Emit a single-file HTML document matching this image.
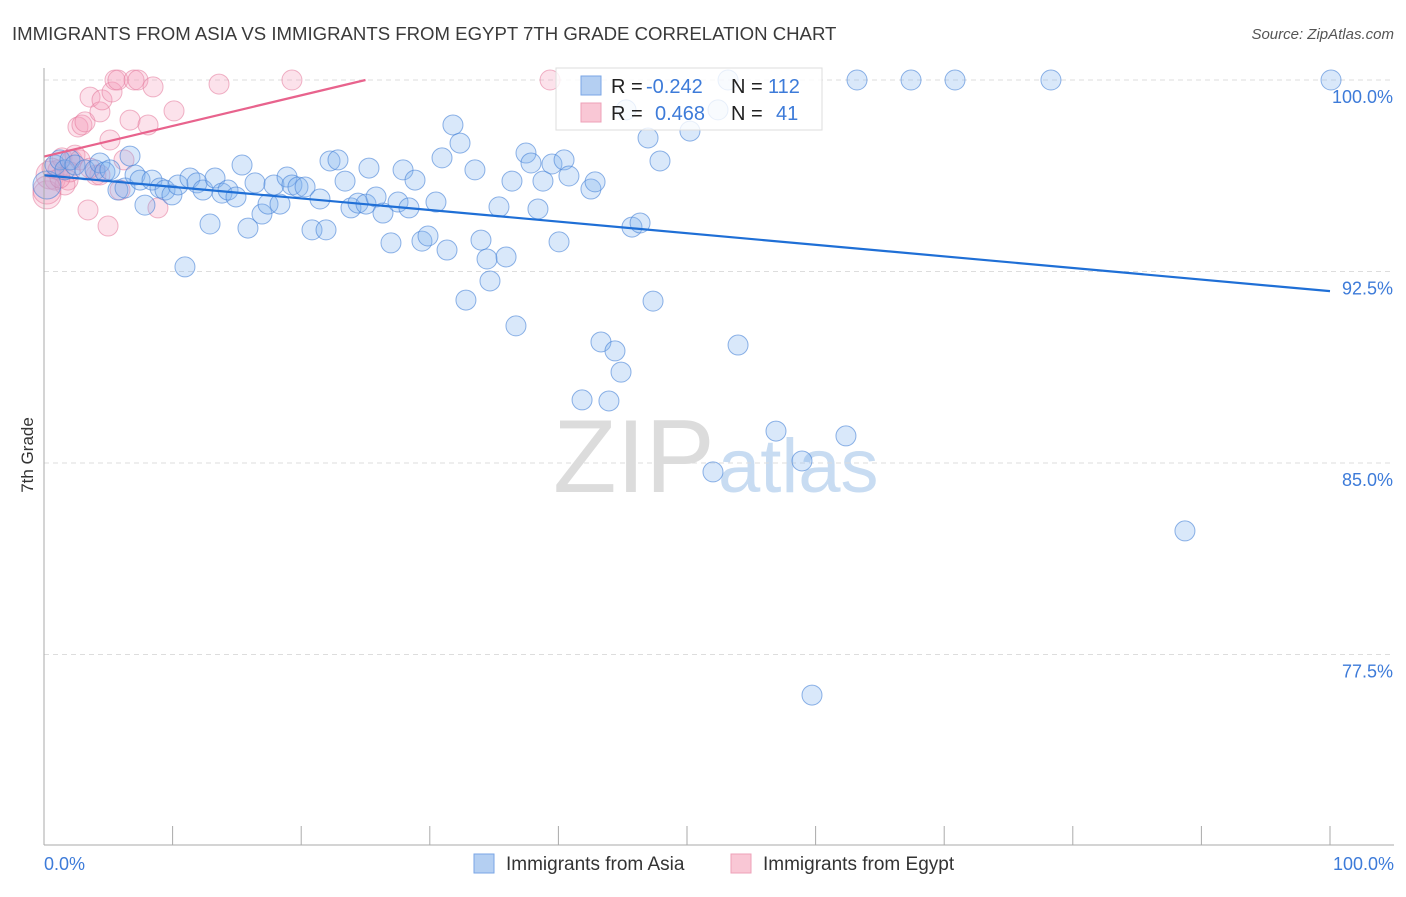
<!DOCTYPE html>
<html><head><meta charset="utf-8"><style>
body{margin:0;background:#fff;font-family:"Liberation Sans",sans-serif;}
svg text{font-family:"Liberation Sans",sans-serif;}
</style></head><body>
<svg id="c" width="1406" height="892">
<text x="12" y="40" font-size="18.6" fill="#3a3a3a">IMMIGRANTS FROM ASIA VS IMMIGRANTS FROM EGYPT 7TH GRADE CORRELATION CHART</text>
<text x="1394" y="39" font-size="15" fill="#555" font-style="italic" text-anchor="end">Source: ZipAtlas.com</text>
<text x="33" y="455" font-size="17" fill="#333" transform="rotate(-90 33 455)" text-anchor="middle">7th Grade</text>
<text x="553" y="492" font-size="104" fill="#dcdcdc" font-family="Liberation Serif">ZIP</text>
<text x="718" y="492" font-size="76" fill="#c8dcf2">atlas</text>
<g id="grid"></g><g id="pts"></g><g id="lines"></g>
<line x1="44" y1="68" x2="44" y2="845" stroke="#aaa"/>
<line x1="44" y1="845" x2="1394" y2="845" stroke="#aaa"/>
<text x="44" y="870" font-size="18" fill="#3d7bd9">0.0%</text>
<text x="1394" y="870" font-size="18" fill="#3d7bd9" text-anchor="end">100.0%</text>
<g>
<rect x="556" y="68" width="266" height="62" fill="#fff" fill-opacity="0.8" stroke="#ddd"/>
<rect x="581" y="76" width="20" height="19" fill="#b4cff2" stroke="#7aa6e6"/>
<rect x="581" y="103" width="20" height="19" fill="#f9c7d5" stroke="#eea0b8"/>
<text x="611" y="93" font-size="20" fill="#222">R = <tspan fill="#3d7bd9" x="646">-0.242</tspan></text>
<text x="731" y="93" font-size="20" fill="#222">N = <tspan fill="#3d7bd9" x="768">112</tspan></text>
<text x="611" y="120" font-size="20" fill="#222">R = <tspan fill="#3d7bd9" x="655">0.468</tspan></text>
<text x="731" y="120" font-size="20" fill="#222">N = <tspan fill="#3d7bd9" x="776">41</tspan></text>
</g>
<g><rect x="474" y="854" width="20" height="19" fill="#b4cff2" stroke="#7aa6e6"/><text x="506" y="870" font-size="19" fill="#333">Immigrants from Asia</text></g>
<g><rect x="731" y="854" width="20" height="19" fill="#f9c7d5" stroke="#eea0b8"/><text x="763" y="870" font-size="19" fill="#333">Immigrants from Egypt</text></g>
</svg>
<script>
const yTicks=[100,92.5,85,77.5];
const xTickVals=[0,10,20,30,40,50,60,70,80,90,100];
const asiaPx=[[47,185],[55,165],[60,160],[65,170],[70,160],[75,165],[85,170],[95,170],[100,163],[105,172],[110,170],[118,190],[125,188],[130,156],[135,175],[140,180],[145,205],[152,180],[160,188],[165,190],[172,195],[178,185],[185,267],[190,178],[197,183],[203,190],[210,224],[215,178],[222,193],[228,190],[236,197],[242,165],[248,228],[255,183],[262,214],[268,204],[274,185],[280,204],[287,177],[292,185],[298,187],[305,187],[312,230],[320,199],[326,230],[330,161],[338,160],[345,181],[351,208],[358,203],[366,204],[369,168],[376,197],[383,213],[391,243],[398,202],[403,170],[409,208],[415,180],[422,241],[428,236],[436,202],[442,158],[447,250],[453,125],[460,143],[466,300],[475,170],[481,240],[487,259],[490,281],[499,207],[506,257],[512,181],[516,326],[526,153],[531,163],[538,209],[543,181],[552,164],[559,242],[564,160],[569,176],[582,400],[591,189],[595,182],[601,342],[609,401],[615,351],[621,372],[626,110],[632,227],[640,223],[648,138],[653,301],[660,161],[690,131],[713,472],[718,110],[728,80],[738,345],[776,431],[802,461],[812,695],[846,436],[857,80],[911,80],[955,80],[1051,80],[1185,531],[1331,80]];
const egyptPx=[[47,195],[50,175],[55,180],[58,170],[62,158],[68,180],[72,160],[75,155],[78,127],[82,125],[85,122],[88,210],[90,97],[96,175],[100,112],[102,100],[108,226],[112,92],[115,80],[118,80],[120,190],[124,160],[130,120],[134,80],[138,80],[148,125],[153,87],[158,208],[174,111],[219,84],[292,80],[550,80],[100,175],[110,140],[65,185],[47,190],[52,168],[70,172],[80,160],[90,168],[60,178]];
const asiaX=asiaPx.map(p=>+((p[0]-44)/12.86).toFixed(2));
const asiaY=asiaPx.map(p=>+(100-(p[1]-80)/25.533).toFixed(2));
const egyptX=egyptPx.map(p=>+((p[0]-44)/12.86).toFixed(2));
const egyptY=egyptPx.map(p=>+(100-(p[1]-80)/25.533).toFixed(2));
const asiaTrend=[[0,96.27],[100,91.73]];
const egyptTrend=[[0,97.0],[25,100]];
const xs=v=>44+v*12.86, ys=v=>80+(100-v)*25.533;
const NS='http://www.w3.org/2000/svg';
const g=document.getElementById('grid'),P=document.getElementById('pts'),L=document.getElementById('lines');
yTicks.forEach(t=>{
 const l=document.createElementNS(NS,'line');
 l.setAttribute('x1',44);l.setAttribute('x2',1394);l.setAttribute('y1',ys(t));l.setAttribute('y2',ys(t));
 l.setAttribute('stroke','#ddd');l.setAttribute('stroke-dasharray','5,4');
 
 
 g.appendChild(l);
 const tx=document.createElementNS(NS,'text');
 tx.setAttribute('x',1393);tx.setAttribute('y',ys(t)+23);tx.setAttribute('text-anchor','end');
 tx.setAttribute('font-size','18');tx.setAttribute('fill','#3d7bd9');tx.textContent=t.toFixed(1)+'%';
 
 
 g.appendChild(tx);
});
xTickVals.forEach(t=>{
 const l=document.createElementNS(NS,'line');
 l.setAttribute('x1',xs(t));l.setAttribute('x2',xs(t));l.setAttribute('y1',826);l.setAttribute('y2',845);l.setAttribute('stroke','#aaa');
 
 
 g.appendChild(l);
});
function dots(X,Y,fill,stroke,name){X.forEach((x,i)=>{
 const c=document.createElementNS(NS,'circle');
 c.setAttribute('cx',xs(x));c.setAttribute('cy',ys(Y[i]));c.setAttribute('r',x<0.5?14:10);
 c.setAttribute('fill',fill);c.setAttribute('stroke',stroke);c.setAttribute('stroke-width','1');
 
 
 P.appendChild(c);});}
dots(egyptX,egyptY,'rgba(244,160,188,0.3)','rgba(228,120,155,0.55)','egypt-point');
dots(asiaX,asiaY,'rgba(130,178,238,0.3)','rgba(70,130,215,0.6)','asia-point');
function line(T,col,name){const l=document.createElementNS(NS,'line');
 l.setAttribute('x1',xs(T[0][0]));l.setAttribute('y1',ys(T[0][1]));l.setAttribute('x2',xs(T[1][0]));l.setAttribute('y2',ys(T[1][1]));
 l.setAttribute('stroke',col);l.setAttribute('stroke-width','2.2');
 
 
 L.appendChild(l);}
line(asiaTrend,'#1f6fd6','asia-trend-line');
line(egyptTrend,'#e8638d','egypt-trend-line');
</script>
</body></html>
